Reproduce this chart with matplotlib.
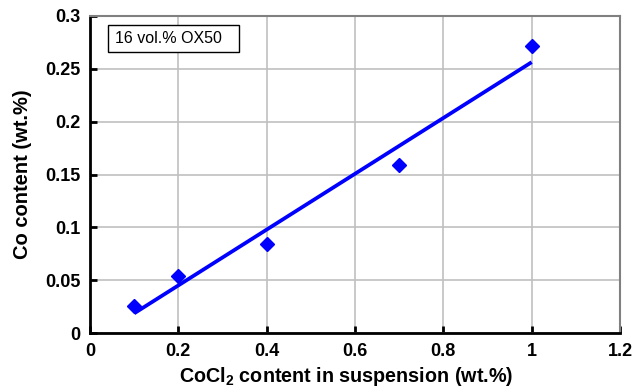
import matplotlib
matplotlib.use("Agg")
import matplotlib.pyplot as plt
from matplotlib.ticker import FuncFormatter
from matplotlib.patches import Rectangle
import numpy as np

plt.rcParams['font.family'] = ['Liberation Sans', 'DejaVu Sans']
plt.rcParams['mathtext.fontset'] = 'custom'
plt.rcParams['mathtext.rm'] = 'Liberation Sans:bold'
plt.rcParams['mathtext.bf'] = 'Liberation Sans:bold'
plt.rcParams['mathtext.default'] = 'bf'

# data
cocl2 = [0.1, 0.2, 0.4, 0.7, 1.0]
co = [0.026, 0.054, 0.084, 0.159, 0.272]
label_box = "16 vol.% OX50"

fig = plt.figure(figsize=(6.35, 3.9), dpi=100)
ax = fig.add_axes([0.1417, 0.146, 0.8347, 0.813])

# linear fit over data range
k, b = np.polyfit(cocl2, co, 1)
xf = np.array([min(cocl2), max(cocl2)])
ax.plot(xf, k * xf + b, color='#0000ff', lw=2.7, solid_capstyle='butt', zorder=3)
ax.plot(cocl2, co, 'D', color='#0000ff', ms=7, zorder=4)

ax.set_xlim(0, 1.2)
ax.set_ylim(0, 0.3)
ax.set_xticks(np.arange(0, 1.21, 0.2))
ax.set_yticks(np.arange(0, 0.301, 0.05))
fmt = FuncFormatter(lambda v, p: "%g" % round(v, 3))
ax.xaxis.set_major_formatter(fmt)
ax.yaxis.set_major_formatter(fmt)

ax.grid(True, color='#c0c0c0', lw=1.2)
ax.set_axisbelow(True)

for s in ['left', 'bottom']:
    ax.spines[s].set_color('black')
    ax.spines[s].set_linewidth(2)
for s in ['top', 'right']:
    ax.spines[s].set_color('#808080')
    ax.spines[s].set_linewidth(1.5)

ax.tick_params(direction='in', length=5, width=2, labelsize=13, pad=7)
for t in ax.get_xticklabels() + ax.get_yticklabels():
    t.set_fontweight('bold')

ax.set_xlabel(r"CoCl$_2$ content in suspension (wt.%)", fontsize=14.2, fontweight='bold', labelpad=4)
ax.xaxis.label.set_x(0.484)
ax.set_ylabel("Co content (wt.%)", fontsize=14.5, fontweight='bold', labelpad=9)

# label box
ax.add_patch(Rectangle((0.034, 0.886), 0.247, 0.086, transform=ax.transAxes,
                       facecolor='white', edgecolor='black', lw=1, zorder=5))
ax.text(0.047, 0.929, label_box, transform=ax.transAxes, fontsize=11.5,
        va='center', ha='left', zorder=6)

plt.savefig("out.png", dpi=100)
